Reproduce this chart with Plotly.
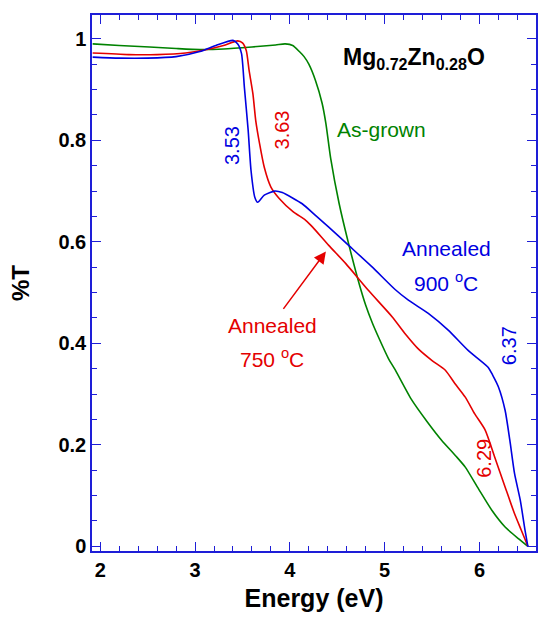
import plotly.graph_objects as go

# ---- data ----
green_x = [1.92, 2.2, 2.52, 2.8, 3.05, 3.3, 3.6, 3.85, 3.95, 4.03, 4.10, 4.15, 4.20, 4.27, 4.34,
           4.38, 4.43, 4.52, 4.62, 4.73, 4.80, 4.87, 4.94, 5.04, 5.11, 5.28, 5.45, 5.60, 5.75, 5.85,
           5.99, 6.13, 6.27, 6.41, 6.51]
green_y = [0.990, 0.987, 0.984, 0.981, 0.979, 0.980, 0.984, 0.988, 0.990, 0.987, 0.975, 0.965, 0.950,
           0.918, 0.873, 0.833, 0.765, 0.675, 0.596, 0.518, 0.475, 0.440, 0.410, 0.370, 0.348, 0.290,
           0.245, 0.209, 0.178, 0.156, 0.113, 0.071, 0.038, 0.015, 0.0]

red_x = [1.92, 2.3, 2.6, 2.9, 3.1, 3.3, 3.45, 3.50, 3.54, 3.57, 3.61, 3.64, 3.68, 3.73, 3.80, 3.89,
         4.03, 4.17, 4.24, 4.41, 4.59, 4.83, 5.08, 5.22, 5.36, 5.50, 5.64, 5.74, 5.85, 5.95, 6.06,
         6.16, 6.27, 6.37, 6.44, 6.51]
red_y = [0.972, 0.969, 0.969, 0.972, 0.978, 0.987, 0.996, 0.992, 0.977, 0.938, 0.892, 0.839, 0.794,
         0.747, 0.708, 0.685, 0.660, 0.642, 0.629, 0.593, 0.557, 0.504, 0.452, 0.418, 0.388, 0.366,
         0.347, 0.321, 0.294, 0.261, 0.229, 0.176, 0.117, 0.064, 0.032, 0.0]

blue_x = [1.92, 2.2, 2.5, 2.8, 3.05, 3.22, 3.40, 3.45, 3.49, 3.52, 3.56, 3.59, 3.63, 3.66, 3.73,
          3.84, 3.92, 4.13, 4.27, 4.41, 4.62, 4.87, 5.11, 5.25, 5.46, 5.67, 5.88, 6.09, 6.14, 6.20,
          6.27, 6.32, 6.37, 6.43, 6.48, 6.51]
blue_y = [0.964, 0.962, 0.962, 0.965, 0.975, 0.987, 0.997, 0.990, 0.971, 0.905, 0.820, 0.741, 0.688,
          0.678, 0.692, 0.700, 0.697, 0.675, 0.652, 0.629, 0.593, 0.550, 0.506, 0.485, 0.459, 0.426,
          0.386, 0.353, 0.337, 0.314, 0.268, 0.209, 0.143, 0.091, 0.032, 0.0]

x_ticks = [2, 3, 4, 5, 6]
y_ticks = [0, 0.2, 0.4, 0.6, 0.8, 1]
y_tick_labels = ["0", "0.2", "0.4", "0.6", "0.8", "1"]

GREEN = "rgb(0,130,0)"
RED = "rgb(228,0,0)"
BLUE = "rgb(0,0,225)"
AXC = "rgb(30,30,215)"
FONT = "Liberation Sans, Arial, sans-serif"

fig = go.Figure()
for xs, ys, c in [(green_x, green_y, GREEN), (red_x, red_y, RED), (blue_x, blue_y, BLUE)]:
    fig.add_trace(go.Scatter(x=xs, y=ys, mode="lines",
                             line=dict(color=c, width=1.6, shape="spline", smoothing=0.6)))

AF = 21
ann = []
ann.append(dict(x=5.305, y=0.962, text="<b>Mg<sub>0.72</sub>Zn<sub>0.28</sub>O</b>",
                font=dict(size=23, color="black", family=FONT), showarrow=False))
ann.append(dict(x=4.97, y=0.822, text="As-grown", font=dict(size=AF, color=GREEN, family=FONT), showarrow=False))
ann.append(dict(x=3.396, y=0.79, text="3.53", textangle=-90, font=dict(size=20, color=BLUE, family=FONT), showarrow=False))
ann.append(dict(x=3.92, y=0.82, text="3.63", textangle=-90, font=dict(size=20, color=RED, family=FONT), showarrow=False))
ann.append(dict(x=5.65, y=0.587, text="Annealed", font=dict(size=AF, color=BLUE, family=FONT), showarrow=False))
ann.append(dict(x=5.65, y=0.52, text="900 <sup>o</sup>C", font=dict(size=AF, color=BLUE, family=FONT), showarrow=False))
ann.append(dict(x=3.815, y=0.435, text="Annealed", font=dict(size=AF, color=RED, family=FONT), showarrow=False))
ann.append(dict(x=3.815, y=0.372, text="750 <sup>o</sup>C", font=dict(size=AF, color=RED, family=FONT), showarrow=False))
ann.append(dict(x=6.32, y=0.396, text="6.37", textangle=-90, font=dict(size=20, color=BLUE, family=FONT), showarrow=False))
ann.append(dict(x=6.04, y=0.173, text="6.29", textangle=-90, font=dict(size=20, color=RED, family=FONT), showarrow=False))
ann.append(dict(x=4.38, y=0.581, ax=3.92, ay=0.465, axref="x", ayref="y", xref="x", yref="y",
                text="", showarrow=True, arrowhead=2, arrowsize=1.6, arrowwidth=1.5, arrowcolor=RED))

axis_common = dict(showline=True, linecolor=AXC, linewidth=1.5, mirror="allticks",
                   ticks="inside", tickcolor=AXC, tickwidth=1.2, ticklen=9,
                   showgrid=False, zeroline=False,
                   tickfont=dict(size=20, color="black", family=FONT, weight="bold"))

fig.update_layout(
    width=539, height=617,
    margin=dict(l=92, r=1, t=15, b=66),
    paper_bgcolor="white", plot_bgcolor="white",
    showlegend=False,
    annotations=ann,
    xaxis=dict(range=[1.913, 6.596], tickvals=x_ticks, ticktext=[str(v) for v in x_ticks],
               minor=dict(ticks="inside", dtick=0.2, tick0=0, ticklen=5, tickcolor=AXC, tickwidth=1.2),
               title=dict(text="Energy (eV)", font=dict(size=25, color="black", family=FONT, weight="bold"), standoff=10),
               **axis_common),
    yaxis=dict(range=[-0.0093, 1.047], tickvals=y_ticks, ticktext=y_tick_labels,
               minor=dict(ticks="inside", dtick=0.05, tick0=0, ticklen=5, tickcolor=AXC, tickwidth=1.2),
               title=dict(text="%T", font=dict(size=24, color="black", family=FONT, weight="bold"), standoff=22),
               **axis_common),
)

fig.write_html("out.html")
